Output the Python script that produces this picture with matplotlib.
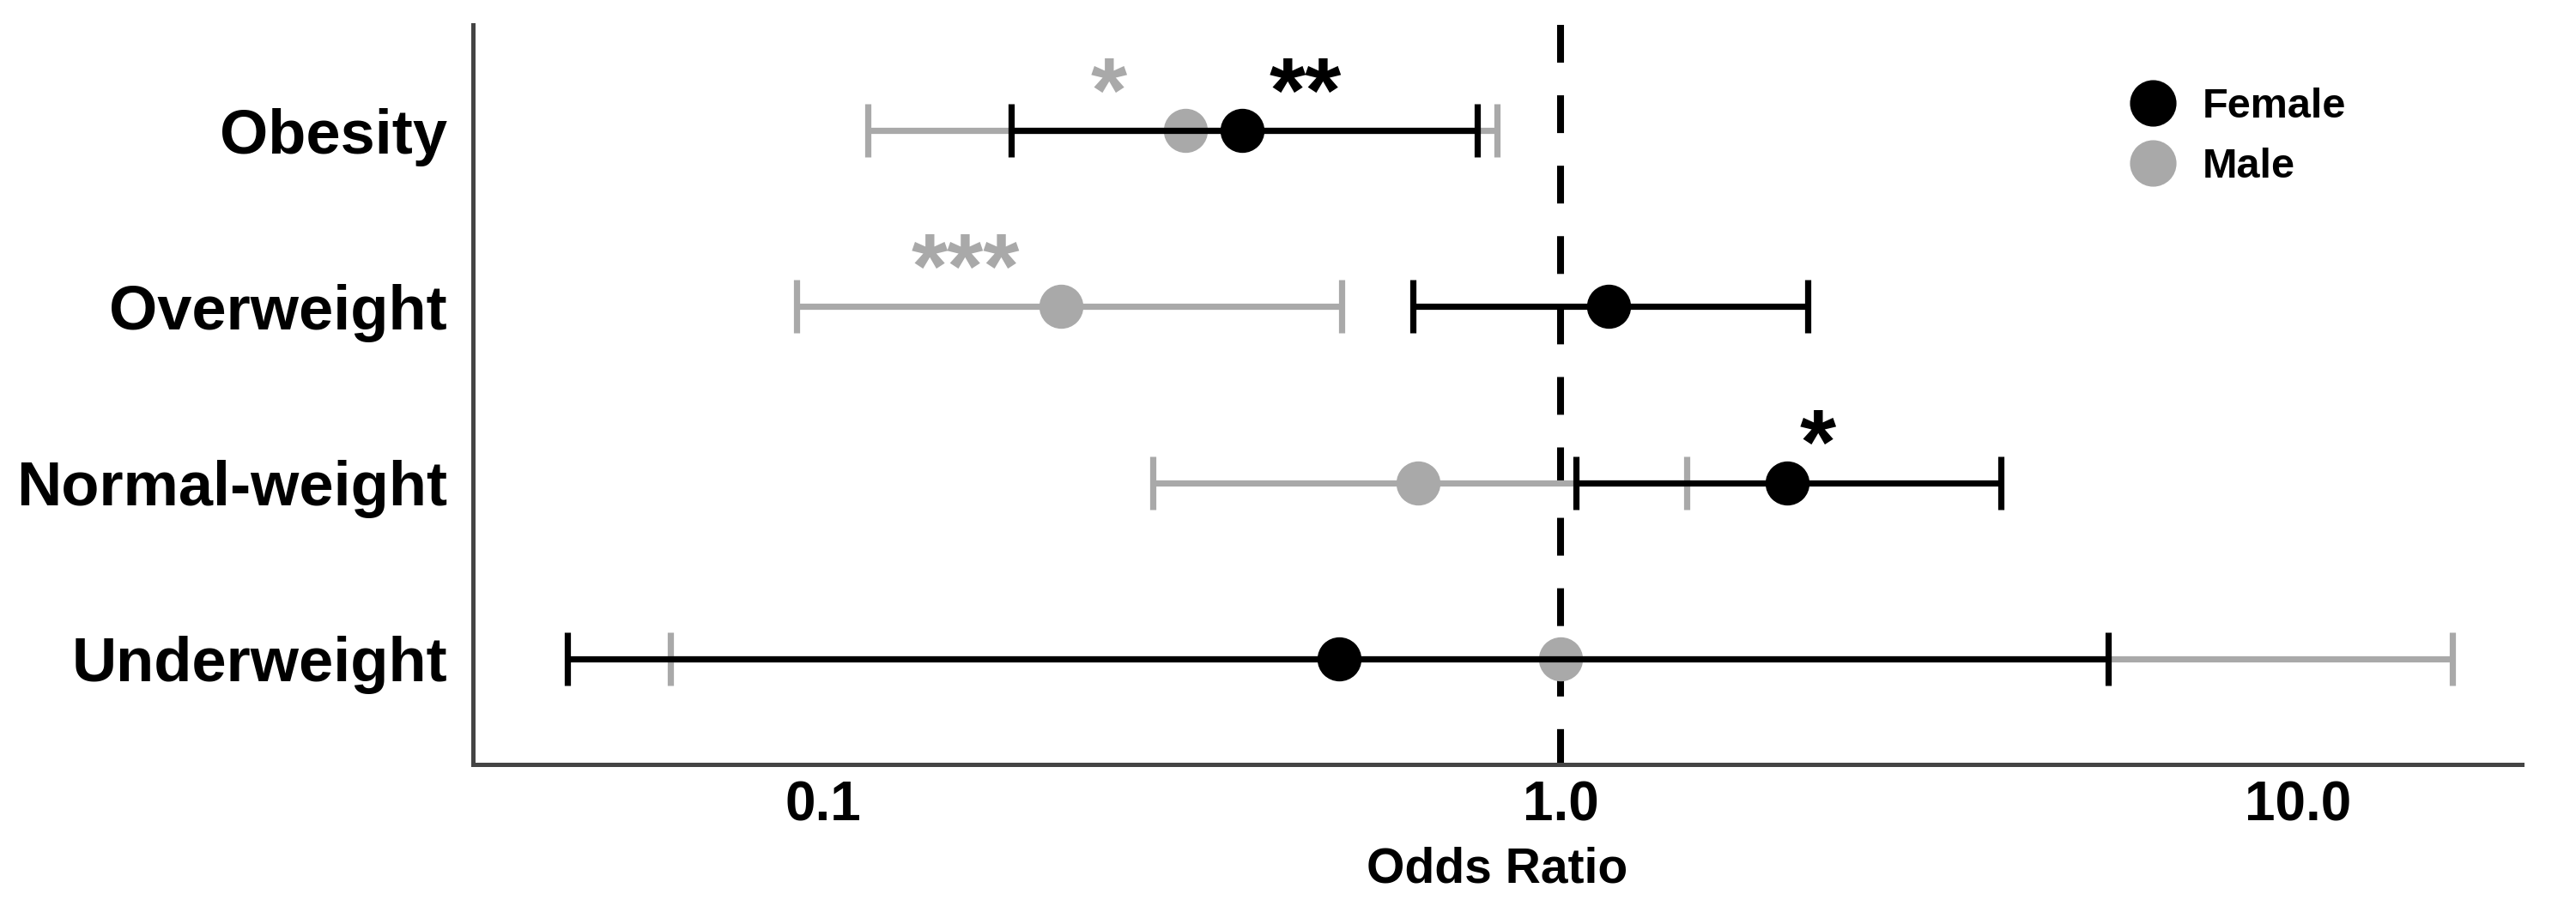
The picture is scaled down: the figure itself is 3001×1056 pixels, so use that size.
import numpy as np
import matplotlib
matplotlib.use('Agg')
import matplotlib.pyplot as plt
from matplotlib.lines import Line2D

plt.rcParams['font.family'] = ['Liberation Sans', 'DejaVu Sans']
plt.rcParams['font.weight'] = 'bold'
plt.rcParams['lines.scale_dashes'] = False

# Odds ratios with 95% CI (top row first).
categories = ['Obesity', 'Overweight', 'Normal-weight', 'Underweight']
female_or = [0.37, 1.16, 2.03, 0.50]
female_lo = [0.18, 0.63, 1.05, 0.045]
female_hi = [0.77, 2.16, 3.95, 5.53]
male_or = [0.31, 0.21, 0.64, 1.00]
male_lo = [0.115, 0.092, 0.28, 0.062]
male_hi = [0.82, 0.505, 1.48, 16.2]

# Significance stars and where they sit on the odds-ratio axis.
female_sig = ['**', '', '*', '']
female_sig_x = [0.45, 1.0, 2.23, 1.0]
male_sig = ['*', '***', '', '']
male_sig_x = [0.244, 0.156, 1.0, 1.0]

x_ticks = [0.1, 1.0, 10.0]
x_tick_labels = ['0.1', '1.0', '10.0']

BLACK = 'black'
GREY = '#a9a9a9'

y = np.arange(len(categories), 0, -1)

fig = plt.figure(figsize=(30.01, 10.56), dpi=100)
ax = fig.add_axes([0.1836, 0.1563, 0.7954, 0.8162])


def draw_group(ors, lo, hi, colour, z):
    ors = np.array(ors)
    err = [ors - np.array(lo), np.array(hi) - ors]
    ax.errorbar(ors, y, xerr=err, fmt='o', color=colour, ecolor=colour,
                markersize=36, elinewidth=5.2, capsize=22.5, capthick=5.2,
                zorder=z)


# Reference line at OR = 1, drawn from the top so the dashes start there.
ax.plot([1, 1], [4.6, 0.4], color='black', lw=5.8,
        dashes=(31.7, 27.4), zorder=2)

# Female drawn last so its lines cross over the male points.
draw_group(male_or, male_lo, male_hi, GREY, 3)
draw_group(female_or, female_lo, female_hi, BLACK, 4)

for yy, s, sx in zip(y, male_sig, male_sig_x):
    if s:
        ax.text(sx, yy + 0.05, s, color=GREY, fontsize=78, ha='center',
                va='baseline', fontweight='bold')
for yy, s, sx in zip(y, female_sig, female_sig_x):
    if s:
        ax.text(sx, yy + 0.05, s, color=BLACK, fontsize=78, ha='center',
                va='baseline', fontweight='bold')

ax.set_xscale('log')
ax.set_xlim(0.0335, 20.1)
ax.set_ylim(0.4, 4.6)
ax.set_xticks(x_ticks)
ax.set_xticklabels(x_tick_labels)
ax.minorticks_off()
ax.set_yticks(y)
ax.set_yticklabels(categories)

ax.tick_params(axis='x', length=0, pad=13.7, labelsize=46)
ax.tick_params(axis='y', length=0, pad=21.6, labelsize=52)
ax.set_xlabel('Odds Ratio', fontsize=41, fontweight='bold', labelpad=12)

for side in ['top', 'right']:
    ax.spines[side].set_visible(False)
for side in ['left', 'bottom']:
    ax.spines[side].set_linewidth(3.6)
    ax.spines[side].set_color('#444444')

handles = [
    Line2D([], [], marker='o', linestyle='none', color=BLACK, markersize=38),
    Line2D([], [], marker='o', linestyle='none', color=GREY, markersize=38),
]
fig.legend(handles, ['Female', 'Male'], loc='upper left',
           bbox_to_anchor=(0.8266, 0.903), frameon=False, fontsize=35,
           borderpad=0, handlelength=1.14, handletextpad=0.62,
           labelspacing=0.5, borderaxespad=0)

fig.savefig('out.png', dpi=100)
